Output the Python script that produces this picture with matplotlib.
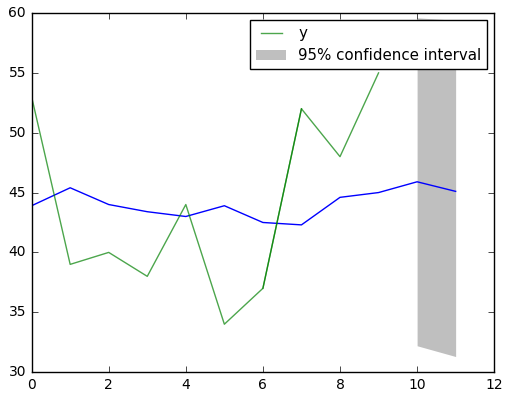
import matplotlib
matplotlib.use("Agg")
import matplotlib.pyplot as plt

# observed series
y_x = [0, 1, 2, 3, 4, 5, 6, 7, 8, 9]
y_vals = [53, 39, 40, 38, 44, 34, 37, 52, 48, 55]

# segment drawn twice in the original (shows darker)
overlap_x = [6, 7]
overlap_vals = [37, 52]

# forecast line
fc_x = [0, 1, 2, 3, 4, 5, 6, 7, 8, 9, 10, 11]
fc_vals = [43.9, 45.4, 44.0, 43.4, 43.0, 43.9, 42.5, 42.3, 44.6, 45.0, 45.9, 45.1]

# 95% confidence interval
ci_x = [10, 11]
ci_lower = [32.2, 31.3]
ci_upper = [59.6, 59.4]

plt.style.use("classic")
plt.rcParams["font.size"] = 10
plt.rcParams["font.family"] = "DejaVu Sans"

fig = plt.figure(figsize=(5.1, 3.95), dpi=100)
fig.patch.set_facecolor("white")
ax = fig.add_axes([0.062, 0.058, 0.907, 0.909])
ax.set_facecolor("white")

ax.plot(fc_x, fc_vals, color="b", linewidth=1)
ax.plot(y_x, y_vals, color="g", alpha=0.7, linewidth=1, label="y")
ax.plot(overlap_x, overlap_vals, color="g", alpha=0.7, linewidth=1)
ax.fill_between(ci_x, ci_lower, ci_upper, color="gray", alpha=0.5,
                linewidth=0, label="95% confidence interval")

ax.set_xlim(0, 12)
ax.set_ylim(30, 60)
ax.tick_params(labelsize=10)
ax.legend(loc="upper right", fontsize=10.8, numpoints=2, borderaxespad=0.45)

fig.savefig("out.png", dpi=100, facecolor="white")
